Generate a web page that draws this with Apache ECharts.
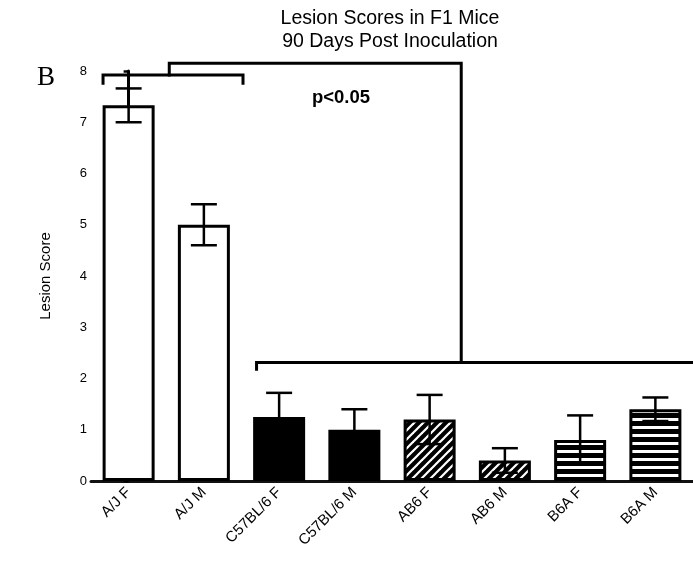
<!DOCTYPE html>
<html><head><meta charset="utf-8">
<script src="https://cdn.jsdelivr.net/npm/echarts@6/dist/echarts.min.js"></script>
<style>html,body{margin:0;padding:0;background:#fff}#c{width:693px;height:561px}</style>
</head><body><div id="c"></div>
<script>
// ---- data ----
const categories = ['A/J F', 'A/J M', 'C57BL/6 F', 'C57BL/6 M', 'AB6 F', 'AB6 M', 'B6A F', 'B6A M'];
const means  = [7.33, 5.0, 1.25, 1.0, 1.2, 0.4, 0.8, 1.4];
const errors = [0.33, 0.4, 0.47, 0.4, 0.48, 0.24, 0.48, 0.23];
const fills  = ['white', 'white', 'black', 'black', 'diagonal', 'diagonal', 'horizontal', 'horizontal'];
const yMin = 0, yMax = 8, yStep = 1;
// significance brackets: [category position, score]
const bracketLeft  = [[-0.34, 7.76], [-0.34, 7.92], [1.52, 7.92], [1.52, 7.76]];
const bracketLink  = [[0.54, 7.92], [0.54, 8.15], [4.42, 8.15], [4.42, 2.31]];
const bracketRight = [[1.70, 2.18], [1.70, 2.31], [7.6, 2.31]];
const titleText = 'Lesion Scores in F1 Mice\n90 Days Post Inoculation';
const pText = 'p<0.05';
const panelLetter = 'B';

// ---- patterns ----
function diagPattern() {
  const s = 9, c = document.createElement('canvas');
  c.width = c.height = s;
  const g = c.getContext('2d');
  g.fillStyle = '#000'; g.fillRect(0, 0, s, s);
  g.strokeStyle = '#fff'; g.lineWidth = 2.2;
  [[0, s, s, 0], [-s, s, s, -s], [0, 2 * s, 2 * s, 0]].forEach(l => {
    g.beginPath(); g.moveTo(l[0], l[1]); g.lineTo(l[2], l[3]); g.stroke();
  });
  return c;
}
function horizPattern() {
  const s = 8, c = document.createElement('canvas');
  c.width = c.height = s;
  const g = c.getContext('2d');
  g.fillStyle = '#000'; g.fillRect(0, 0, s, s);
  g.fillStyle = '#fff'; g.fillRect(0, 2, s, 3);
  return c;
}
const fillColor = {
  white: '#fff',
  black: '#000',
  diagonal: { image: diagPattern(), repeat: 'repeat' },
  horizontal: { image: horizPattern(), repeat: 'repeat' }
};

const chart = echarts.init(document.getElementById('c'), null, { renderer: 'canvas' });
const bracketSeries = [bracketLeft, bracketLink, bracketRight].map(d => ({
  type: 'line', xAxisIndex: 1, yAxisIndex: 0, data: d, symbol: 'none', clip: false, silent: true,
  lineStyle: { color: '#000', width: 3, cap: 'square', join: 'miter' }, z: 6, animation: false
}));

chart.setOption({
  animation: false,
  textStyle: { fontFamily: 'Liberation Sans' },
  grid: { left: 91, top: 71, width: 615, height: 410, containLabel: false },
  xAxis: [{
    type: 'category', data: categories,
    axisLine: { lineStyle: { color: '#111', width: 3 } },
    axisTick: { alignWithLabel: true, length: 6, lineStyle: { color: '#000', width: 2.5 } },
    axisLabel: { rotate: 45, fontSize: 15, color: '#000', margin: 9, interval: 0 },
    splitLine: { show: false }
  }, {
    type: 'value', min: -0.5, max: 7.5, show: false
  }],
  yAxis: {
    type: 'value', min: yMin, max: yMax, interval: yStep,
    name: 'Lesion Score', nameLocation: 'middle', nameGap: 38,
    nameTextStyle: { fontSize: 15, color: '#000' },
    axisLine: { show: true, lineStyle: { color: '#000', width: 3 } },
    axisTick: { show: true, length: 5, lineStyle: { color: '#000', width: 2.5 } },
    axisLabel: { fontSize: 13, color: '#000', margin: 4 },
    splitLine: { show: false }
  },
  graphic: [
    { type: 'text', x: 390, y: 7, style: { text: titleText, fill: '#000', font: '19.5px "Liberation Sans"', textAlign: 'center', lineHeight: 23 } },
    { type: 'text', x: 37, y: 64, style: { text: panelLetter, fill: '#000', font: '27px "Liberation Serif"' } },
    { type: 'text', x: 341, y: 88, style: { text: pText, fill: '#000', font: 'bold 18.5px "Liberation Sans"', textAlign: 'center' } }
  ],
  series: [{
    type: 'bar', barWidth: 52,
    data: means.map((m, i) => ({ value: m, itemStyle: { color: fillColor[fills[i]] } })),
    itemStyle: { borderColor: '#000', borderWidth: 3 },
    z: 2
  }, {
    type: 'custom', z: 4,
    data: means.map((m, i) => [i, m, errors[i]]),
    renderItem: function (params, api) {
      const x = api.value(0), m = api.value(1), e = api.value(2);
      const top = api.coord([x, m + e]), bot = api.coord([x, m - e]);
      const hw = 13, st = { stroke: '#000', lineWidth: 2.5 };
      return {
        type: 'group', children: [
          { type: 'line', shape: { x1: top[0], y1: top[1], x2: bot[0], y2: bot[1] }, style: st },
          { type: 'line', shape: { x1: top[0] - hw, y1: top[1], x2: top[0] + hw, y2: top[1] }, style: st },
          { type: 'line', shape: { x1: bot[0] - hw, y1: bot[1], x2: bot[0] + hw, y2: bot[1] }, style: st }
        ]
      };
    }
  }].concat(bracketSeries)
});
</script></body></html>
